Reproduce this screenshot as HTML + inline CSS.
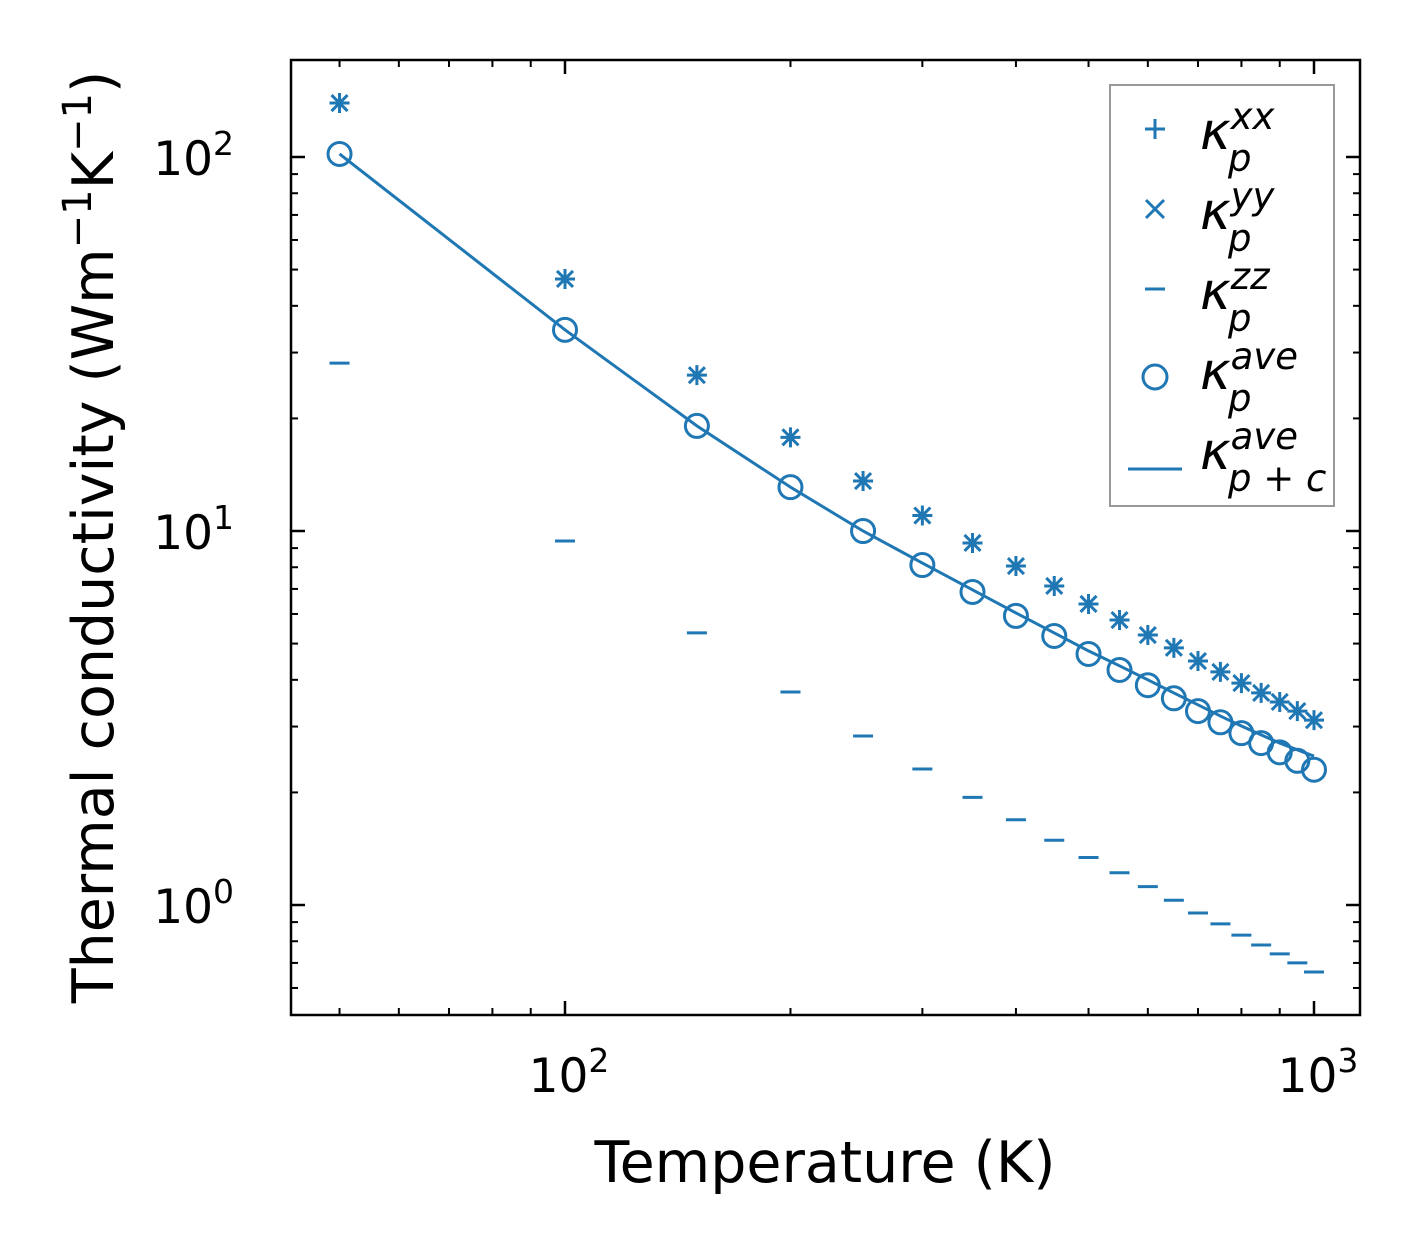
<!DOCTYPE html>
<html><head><meta charset="utf-8"><style>
body{margin:0;background:#fff;}
svg{display:block;font-family:"DejaVu Sans","Liberation Sans",sans-serif;}
</style></head><body>
<svg id="chart" width="1421" height="1254" viewBox="0 0 1421 1254">
<g id="plot"></g>
</svg>
<script>
const temps=[50,100,150,200,250,300,350,400,450,500,550,600,650,700,750,800,850,900,950,1000];
const kxx=[139.4,47.2,26.1,17.8,13.6,11.0,9.29,8.06,7.13,6.38,5.78,5.27,4.87,4.49,4.20,3.92,3.69,3.49,3.30,3.12];
const kyy=[139.4,47.2,26.1,17.8,13.6,11.0,9.29,8.06,7.13,6.38,5.78,5.27,4.87,4.49,4.20,3.92,3.69,3.49,3.30,3.12];
const kzz=[28.1,9.40,5.34,3.71,2.83,2.31,1.94,1.69,1.49,1.34,1.22,1.12,1.03,0.952,0.890,0.831,0.782,0.740,0.700,0.662];
const kave=[101.9,34.5,19.1,13.1,10.0,8.11,6.87,5.93,5.24,4.69,4.25,3.87,3.57,3.30,3.08,2.88,2.71,2.56,2.43,2.30];
const kpc=[101.9,34.5,19.1,13.1,10.0,8.21,6.96,6.04,5.34,4.78,4.36,4.00,3.69,3.43,3.20,3.01,2.85,2.71,2.60,2.50];
const xMajor=[100,1000];
const yMajor=[1,10,100];

const NS='http://www.w3.org/2000/svg';
const L=291,R=1360,T=60,B=1015;
const X=v=>565+749*(Math.log10(v)-2);
const Y=v=>905-374*Math.log10(v);
const C='#1f77b4';
const svg=document.getElementById('chart');
function mk(tag,attrs,parent){const e=document.createElementNS(NS,tag);for(const k in attrs)e.setAttribute(k,attrs[k]);(parent||svg).appendChild(e);return e;}

const ticks=mk('g',{stroke:'#000','stroke-width':2});


for(let d=1;d<=3;d++)for(let m=1;m<10;m++){const v=m*Math.pow(10,d);const x=X(v);if(x<L||x>R)continue;const len=m==1?14:7;const w=m==1?2.5:2;
 mk('line',{x1:x,x2:x,y1:B,y2:B-len,'stroke-width':w},ticks);mk('line',{x1:x,x2:x,y1:T,y2:T+len,'stroke-width':w},ticks);}
for(let d=-1;d<=2;d++)for(let m=1;m<10;m++){const v=m*Math.pow(10,d);const y=Y(v);if(y<T||y>B)continue;const len=m==1?14:7;const w=m==1?2.5:2;
 mk('line',{y1:y,y2:y,x1:L,x2:L+len,'stroke-width':w},ticks);mk('line',{y1:y,y2:y,x1:R,x2:R-len,'stroke-width':w},ticks);}

xMajor.forEach((v,i)=>{const t=mk('text',{x:X(v)+4,y:1092,'font-size':47,'text-anchor':'middle'});t.innerHTML='10<tspan dy="-20" font-size="33">'+Math.round(Math.log10(v))+'</tspan>';
 
 });
yMajor.forEach(v=>{const t=mk('text',{x:234,y:Y(v)+18,'font-size':47,'text-anchor':'end'});t.innerHTML='10<tspan dy="-20" font-size="33">'+Math.round(Math.log10(v))+'</tspan>';
 
 });

const line=mk('polyline',{points:temps.map((t,i)=>X(t)+','+Y(kpc[i])).join(' '),fill:'none',stroke:C,'stroke-width':3});


const g=mk('g',{stroke:C,'stroke-width':3,fill:'none'});


temps.forEach((t,i)=>{
 const x=X(t);let y=Y(kxx[i]);
 mk('path',{d:`M${x-10},${y}h20M${x},${y-10}v20`},g);
 y=Y(kyy[i]);mk('path',{d:`M${x-8},${y-8}l16,16M${x-8},${y+8}l16,-16`},g);
 y=Y(kzz[i]);mk('path',{d:`M${x-10},${y}h20`},g);
 y=Y(kave[i]);mk('circle',{cx:x,cy:y,r:11.5},g);
});

const fr=mk('rect',{x:L,y:T,width:R-L,height:B-T,fill:'none',stroke:'#000','stroke-width':2.5});



const xt=mk('text',{x:825,y:1182,'font-size':57,'text-anchor':'middle'});xt.textContent='Temperature (K)';


const yt=mk('text',{transform:'translate(113,537) rotate(-90)','font-size':57,'text-anchor':'middle'});
yt.innerHTML='Thermal conductivity (Wm<tspan dy="-22" font-size="40">−1</tspan><tspan dy="22">K</tspan><tspan dy="-22" font-size="40">−1</tspan><tspan dy="22">)</tspan>';



const lg=mk('g',{});


mk('rect',{x:1110,y:85,width:224,height:421,fill:'#fff',stroke:'#999','stroke-width':2},lg);
const labels=['xx','yy','zz','ave','ave'];
const subs=['p','p','p','p','p + c'];
labels.forEach((s,i)=>{const cy=129+i*80;const x=1155;
 const m=mk('g',{stroke:C,'stroke-width':3,fill:'none'},lg);
 if(i==0)mk('path',{d:`M${x-10},${cy}h20M${x},${cy-10}v20`},m);
 if(i==1)mk('path',{d:`M${x-9},${cy-9}l18,18M${x-9},${cy+9}l18,-18`},m);
 if(i==2)mk('path',{d:`M${x-10},${cy}h20`},m);
 if(i==3)mk('circle',{cx:x,cy:cy+8,r:12},m);
 if(i==4)mk('path',{d:`M${x-27},${cy+20}h54`},m);
 const t=mk('text',{x:1200,y:cy+20,'font-size':52,'font-style':'italic'},lg);
 t.innerHTML='κ<tspan font-size="37" dy="-20">'+s+'</tspan><tspan font-size="37" x="1228" dy="42">'+subs[i]+'</tspan>';
 
 
});
</script>
</body></html>
